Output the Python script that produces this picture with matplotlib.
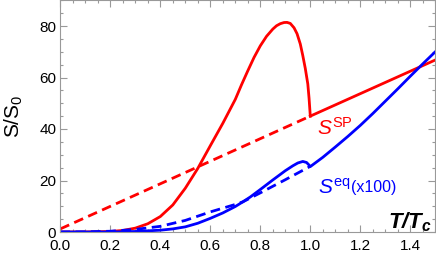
import matplotlib.pyplot as plt
from matplotlib.ticker import MultipleLocator

plt.rcParams['font.family'] = ['Liberation Sans', 'DejaVu Sans']
plt.rcParams['mathtext.fontset'] = 'custom'
plt.rcParams['mathtext.rm'] = 'Liberation Sans'
plt.rcParams['mathtext.it'] = 'Liberation Sans:italic'
plt.rcParams['mathtext.bf'] = 'Liberation Sans:bold:italic'

# red: S^SP
sp_dash_x = [0.0, 1.0]
sp_dash_y = [1.2, 45.0]
sp_line_x = [1.0, 1.5]
sp_line_y = [45.0, 66.8]
sp_curve_x = [0.0, 0.1, 0.2, 0.25, 0.3, 0.35, 0.4, 0.45, 0.5, 0.55, 0.6, 0.65, 0.7,
              0.725, 0.75, 0.775, 0.8, 0.825, 0.85, 0.865, 0.88, 0.895, 0.907, 0.92,
              0.935, 0.947, 0.96, 0.97, 0.98, 0.99, 0.995, 1.0]
sp_curve_y = [0.0, 0.02, 0.2, 0.6, 1.5, 3.2, 6.0, 10.5, 17.0, 24.7, 33.5, 42.2, 51.5,
              57.2, 62.6, 67.8, 72.3, 76.0, 78.8, 80.1, 80.9, 81.35, 81.4, 81.0,
              79.3, 77.0, 73.0, 68.5, 63.5, 57.5, 52.0, 45.0]

# blue: S^eq (x100)
eq_dash_x = [0.0, 0.1, 0.2, 0.3, 0.4, 0.5, 0.6, 0.7, 0.73, 0.8, 0.9, 1.0]
eq_dash_y = [0.0, 0.05, 0.3, 1.0, 2.2, 4.5, 7.8, 10.7, 11.7, 15.2, 20.3, 25.5]
eq_line_x = [0.0, 0.2, 0.3, 0.4, 0.45, 0.5, 0.55, 0.6, 0.65, 0.7, 0.73, 0.76, 0.8,
             0.85, 0.9, 0.93, 0.95, 0.97, 0.985, 0.993, 1.0, 1.05, 1.1, 1.15, 1.2,
             1.25, 1.3, 1.35, 1.4, 1.45, 1.5]
eq_line_y = [0.0, 0.0, 0.2, 0.7, 1.2, 2.0, 3.4, 5.3, 7.4, 9.9, 11.7, 13.6, 16.5,
             20.2, 23.8, 25.7, 26.8, 27.4, 27.0, 26.2, 25.4, 29.0, 33.0, 37.1, 41.4,
             46.0, 50.8, 55.6, 60.5, 65.3, 70.0]

red = '#ff0000'
blue = '#0000ff'

fig = plt.figure(figsize=(4.36, 2.58), dpi=100)
ax = fig.add_axes([60.3 / 436, 26 / 258, 375 / 436, 231.75 / 258])

ax.plot(sp_dash_x, sp_dash_y, color=red, lw=2, ls=(0, (3.5, 2)))
ax.plot(sp_line_x, sp_line_y, color=red, lw=2)
ax.plot(sp_curve_x, sp_curve_y, color=red, lw=2)
ax.plot(eq_dash_x, eq_dash_y, color=blue, lw=2, ls=(0, (3.5, 2)))
ax.plot(eq_line_x, eq_line_y, color=blue, lw=2)

ax.set_xlim(0, 1.5)
ax.set_ylim(0, 90)
ax.xaxis.set_major_locator(MultipleLocator(0.2))
ax.xaxis.set_minor_locator(MultipleLocator(0.05))
ax.yaxis.set_major_locator(MultipleLocator(20))
ax.yaxis.set_minor_locator(MultipleLocator(5))
ax.xaxis.set_major_formatter(lambda v, p: f'{v:.1f}')
ax.xaxis.set_ticks([0.0, 0.2, 0.4, 0.6, 0.8, 1.0, 1.2, 1.4])

ax.tick_params(which='both', direction='in', top=True, right=True, color='#999999',
               labelsize=11, width=0.8)
ax.tick_params(which='major', length=5)
ax.tick_params(which='minor', length=2.5)
ax.tick_params(axis='x', pad=5)
ax.tick_params(axis='y', pad=3)
for s in ax.spines.values():
    s.set_color('#999999')
    s.set_linewidth(0.8)

ax.set_ylabel(r'S/S$_0$', fontsize=15, labelpad=10.5)

ax.text(1.027, 37.7, r'$S^{\mathrm{SP}}$', color=red, fontsize=15, va='baseline')
ax.text(1.03, 14.8, r'$S^{\mathrm{eq}}$', color=blue, fontsize=15, va='baseline')
ax.text(1.162, 15.5, '(x100)', color=blue, fontsize=11.5, va='baseline')
ax.text(1.31, 1.5, r'$\mathbf{T/T_c}$', fontsize=16, va='baseline')

fig.savefig('out.png', dpi=100)
